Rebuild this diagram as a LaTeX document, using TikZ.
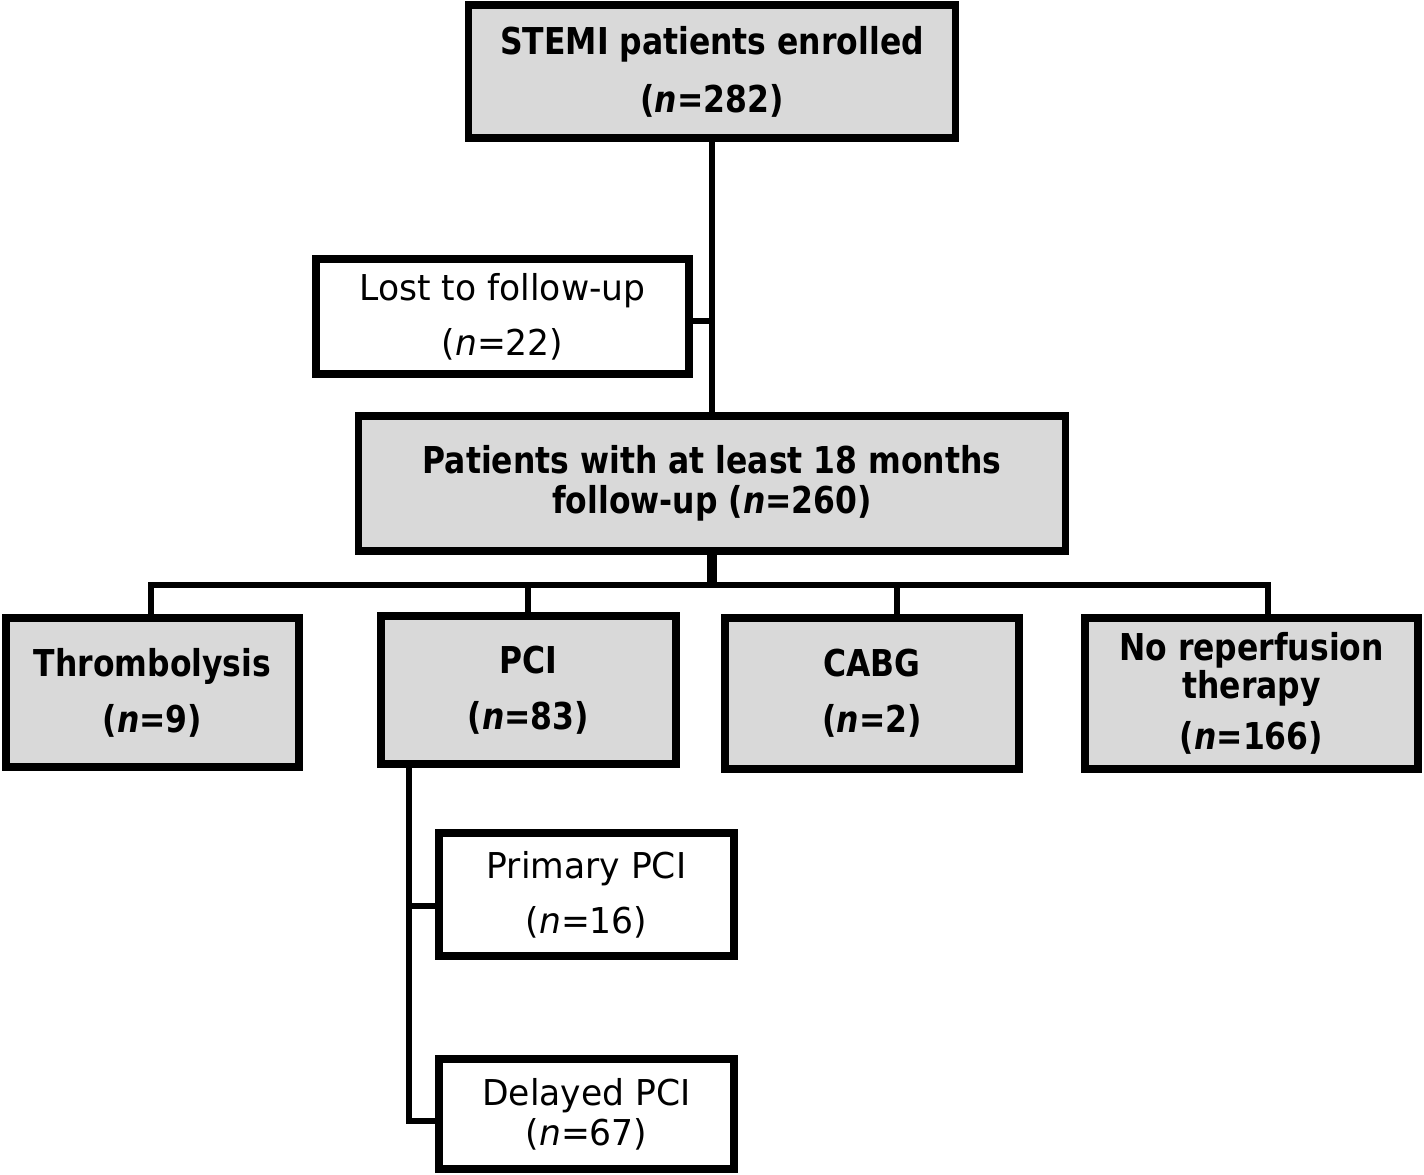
\documentclass[tikz,border=0pt]{standalone}
\usepackage{fontspec}
\setmainfont{DejaVu Sans}[FakeStretch=0.97]
\newfontfamily\boldfam{DejaVu Sans}[FakeStretch=0.85]
\definecolor{boxgrey}{HTML}{D9D9D9}
\begin{document}
\begin{tikzpicture}[x=0.5pt,y=-0.5pt,
  box/.style={draw=black, line width=3.75pt, inner sep=0pt, align=center, text=black},
  gbox/.style={box, fill=boxgrey, font=\boldfam\fontsize{18.5}{28}\selectfont\bfseries},
  wbox/.style={box, fill=white, font=\fontsize{17.8}{27.5}\selectfont},
  conn/.style={draw=black, line width=3pt, line join=miter},
  stem/.style={draw=black, line width=5pt}]
\useasboundingbox (0,0) rectangle (1424,1174);

\node[gbox, minimum width=243.5pt, minimum height=66.5pt,
  font=\boldfam\fontsize{18.5}{29}\selectfont\bfseries] (top) at (712,71.5)
  {STEMI patients enrolled\\(\textit{n}=282)};
\node[wbox, minimum width=186.5pt, minimum height=57.5pt] (lost) at (502.5,316.5)
  {Lost to follow-up\\(\textit{n}=22)};
\node[gbox, minimum width=353.5pt, minimum height=67.5pt,
  font=\boldfam\fontsize{18.5}{20}\selectfont\bfseries] (mid) at (712,483.5)
  {Patients with at least 18 months\\follow-up (\textit{n}=260)};
\node[gbox, minimum width=146.5pt, minimum height=74.5pt] (thromb) at (152.5,692.5)
  {Thrombolysis\\(\textit{n}=9)};
\node[gbox, minimum width=147.5pt, minimum height=74pt] (pci) at (528.5,690)
  {PCI\\(\textit{n}=83)};
\node[gbox, minimum width=147pt, minimum height=75.5pt] (cabg) at (872,693.5)
  {CABG\\(\textit{n}=2)};
\node[gbox, minimum width=166.5pt, minimum height=75.5pt,
  font=\boldfam\fontsize{18.5}{19}\selectfont\bfseries] (norep) at (1251.5,693.5)
  {No reperfusion\\therapy\\[6.5pt](\textit{n}=166)};
\node[wbox, minimum width=147.5pt, minimum height=61.5pt] (primary) at (586.5,894.5)
  {Primary PCI\\(\textit{n}=16)};
\node[wbox, minimum width=147.5pt, minimum height=55pt,
  font=\fontsize{17.8}{20}\selectfont] (delayed) at (586.5,1114)
  {Delayed PCI\\(\textit{n}=67)};

\coordinate (lj) at (712,321);
\coordinate (d1) at (151,585);
\coordinate (d2) at (528,585);
\coordinate (d3) at (897,585);
\coordinate (d4) at (1268,585);
\coordinate (pp) at (409,906);
\coordinate (pb) at (409,1121);

\draw[conn] (top.south) -- (mid.north);
\draw[conn] (lost.east |- lj) -- (lj);
\draw[stem] (mid.south) -- (mid.south |- d1);
\draw[conn] (thromb.north -| d1) -- (d1) -- (d4) -- (norep.north -| d4);
\draw[conn] (d2) -- (pci.north -| d2);
\draw[conn] (d3) -- (cabg.north -| d3);
\draw[conn] (pci.south -| pb) -- (pb) -- (delayed.west |- pb);
\draw[conn] (pp) -- (primary.west |- pp);
\end{tikzpicture}
\end{document}
